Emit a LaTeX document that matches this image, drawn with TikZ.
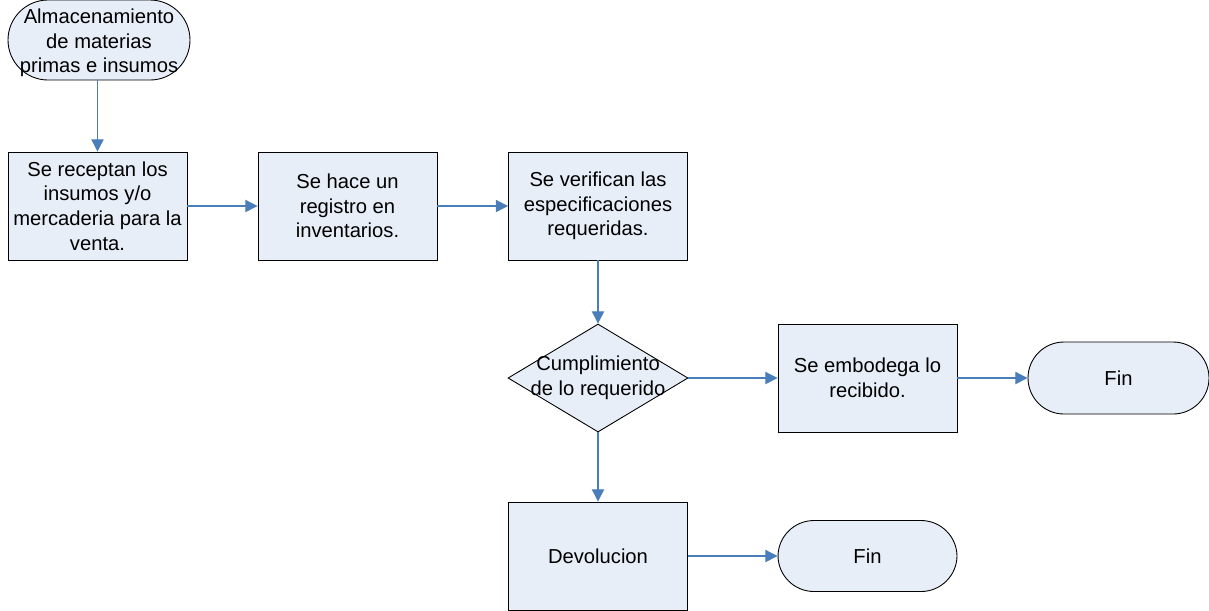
\documentclass[tikz,border=0pt]{standalone}
\usepackage{fontspec}
\setmainfont{Liberation Sans}
\usetikzlibrary{shapes.geometric,arrows.meta}
\definecolor{boxfill}{HTML}{E8EEF8}
\definecolor{arrowc}{HTML}{4A7EBB}
\begin{document}
\begin{tikzpicture}[x=0.02cm,y=-0.02cm,
  base/.style={draw=black,line width=0.5pt,fill=boxfill,inner sep=0pt,
    font=\fontsize{11.5}{14}\selectfont,align=center},
  procbox/.style={base,rectangle,minimum width=179*0.02cm,minimum height=108*0.02cm},
  term/.style={base,rectangle,rounded corners=36*0.02cm,minimum width=180*0.02cm,minimum height=72*0.02cm},
  decis/.style={base,diamond,minimum width=180*0.02cm,minimum height=108*0.02cm},
  txt/.style={font=\fontsize{11.5}{14}\selectfont,align=center,inner sep=0pt},
  conn/.style={draw=arrowc,line width=0.6pt,-{Triangle[length=7pt,width=7pt]}}]
\useasboundingbox (0,0) rectangle (1209,610);
\node[base,rectangle,rounded corners=40*0.02cm,minimum width=182*0.02cm,minimum height=80*0.02cm] (start) at (99,40) {};
\node[txt] (starttxt) at (99,43) {Almacenamiento\\de materias\\primas e insumos};
\node[procbox] (b1) at (97.5,206) {Se receptan los\\insumos y/o\\mercaderia para la\\venta.};
\node[procbox] (b2) at (347.5,206) {Se hace un\\registro en\\inventarios.};
\node[procbox] (b3) at (598,206) {Se verifican las\\especificaciones\\requeridas.};
\node[decis] (d) at (598,378) {};
\node[txt] (dtxt) at (598,378) {Cumplimiento\\de lo requerido};
\node[procbox] (b4) at (867.5,378) {Se embodega lo\\recibido.};
\node[term,minimum width=181*0.02cm] (fin1) at (1118.5,378) {Fin};
\node[procbox] (b5) at (598,556) {Devolucion};
\node[term,minimum width=179*0.02cm,minimum height=71*0.02cm] (fin2) at (867.5,556) {Fin};
\draw[conn] (start.south -| b1.north) -- (b1.north);
\draw[conn] (b1.east) -- (b2.west);
\draw[conn] (b2.east) -- (b3.west);
\draw[conn] (b3.south) -- (d.north);
\draw[conn] (d.east) -- (b4.west);
\draw[conn] (b4.east) -- (fin1.west);
\draw[conn] (d.south) -- (b5.north);
\draw[conn] (b5.east) -- (fin2.west);
\end{tikzpicture}
\end{document}
